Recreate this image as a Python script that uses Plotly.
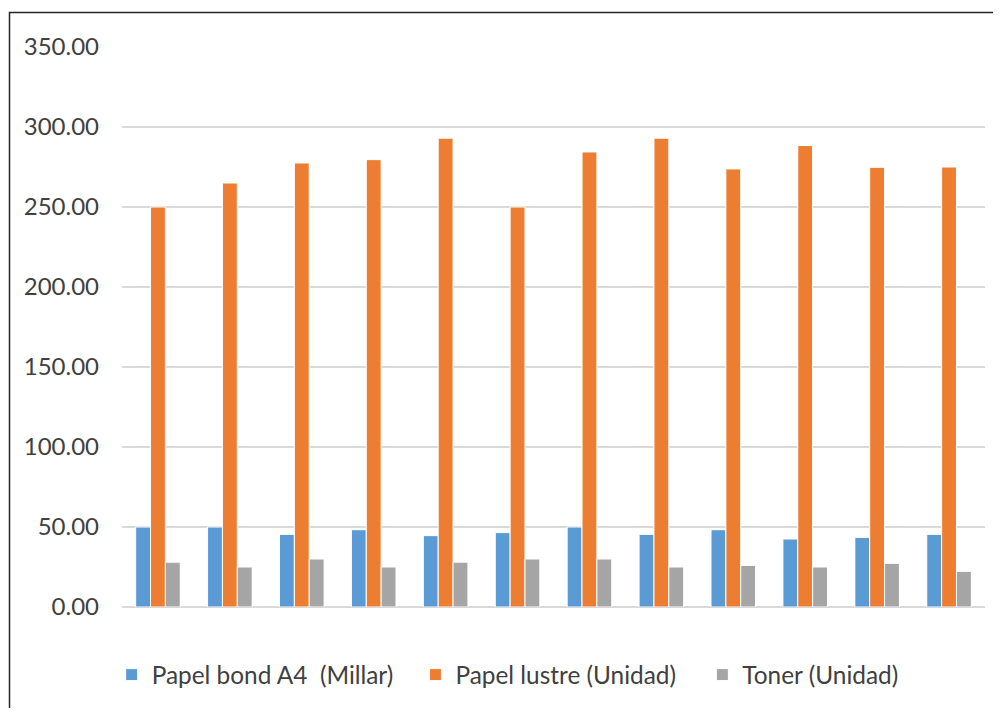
import plotly.graph_objects as go

categories = [str(i) for i in range(1, 13)]
papel_bond = [50, 50, 45.4, 48.3, 44.6, 46.5, 50, 45.4, 48.3, 42.5, 43.5, 45.4]
papel_lustre = [250, 265, 277.5, 279.6, 293, 250, 284.4, 293, 273.8, 288.4, 274.8, 275]
toner = [28, 25, 30, 25, 28, 30, 30, 25, 26, 25, 27.3, 22.3]
series_names = ["Papel bond A4  (Millar)", "Papel lustre (Unidad)", "Toner (Unidad)"]
colors = ["#5B9BD5", "#ED7D31", "#A5A5A5"]
tick_vals = [0, 50, 100, 150, 200, 250, 300, 350]

FONT = "Lato, Carlito, Calibri, sans-serif"

# page body has an 8px default margin; figure sized to fit the window
W, H = 985, 700
L, T = 114, 39
PW, PH = 863, 560
R = W - L - PW
B = H - T - PH

legend_ids = ["legend", "legend2", "legend3"]
legend_x = [-0.012, 0.340, 0.6725]

fig = go.Figure()
for name, vals, col, lid in zip(series_names, [papel_bond, papel_lustre, toner], colors, legend_ids):
    fig.add_trace(go.Bar(x=categories, y=vals, name=name, legend=lid,
                         marker=dict(color=col, line=dict(color="white", width=1))))

legend_common = dict(orientation="h", xanchor="left", y=-0.121, yanchor="middle",
                     font=dict(size=24.4, color="#404040"), bgcolor="rgba(0,0,0,0)")

fig.update_layout(
    width=W, height=H,
    margin=dict(l=L, r=R, t=T, b=B, pad=0),
    paper_bgcolor="white", plot_bgcolor="white",
    barmode="group", bargap=0.38, bargroupgap=0.0,
    font=dict(family=FONT, size=24, color="#404040"),
    showlegend=True,
    legend=dict(x=legend_x[0], **legend_common),
    legend2=dict(x=legend_x[1], **legend_common),
    legend3=dict(x=legend_x[2], **legend_common),
    xaxis=dict(showticklabels=False, showgrid=False, zeroline=False, showline=False, ticks=""),
    yaxis=dict(range=[0, 350], tickvals=tick_vals, tickformat=".2f",
               showgrid=True, gridcolor="#D9D9D9", gridwidth=1.5,
               zeroline=True, zerolinecolor="#D9D9D9", zerolinewidth=1.5,
               showline=False, ticks="", ticklabelstandoff=22,
               tickfont=dict(size=24, color="#404040")),
    shapes=[dict(type="rect", xref="paper", yref="paper",
                 x0=(1.5 - L) / PW, x1=(W + 20 - L) / PW,
                 y0=(T + PH - (H + 20)) / PH, y1=(T + PH - 4.5) / PH,
                 line=dict(color="#262626", width=1.5), fillcolor="rgba(0,0,0,0)")],
)

fig.write_html("out.html")
